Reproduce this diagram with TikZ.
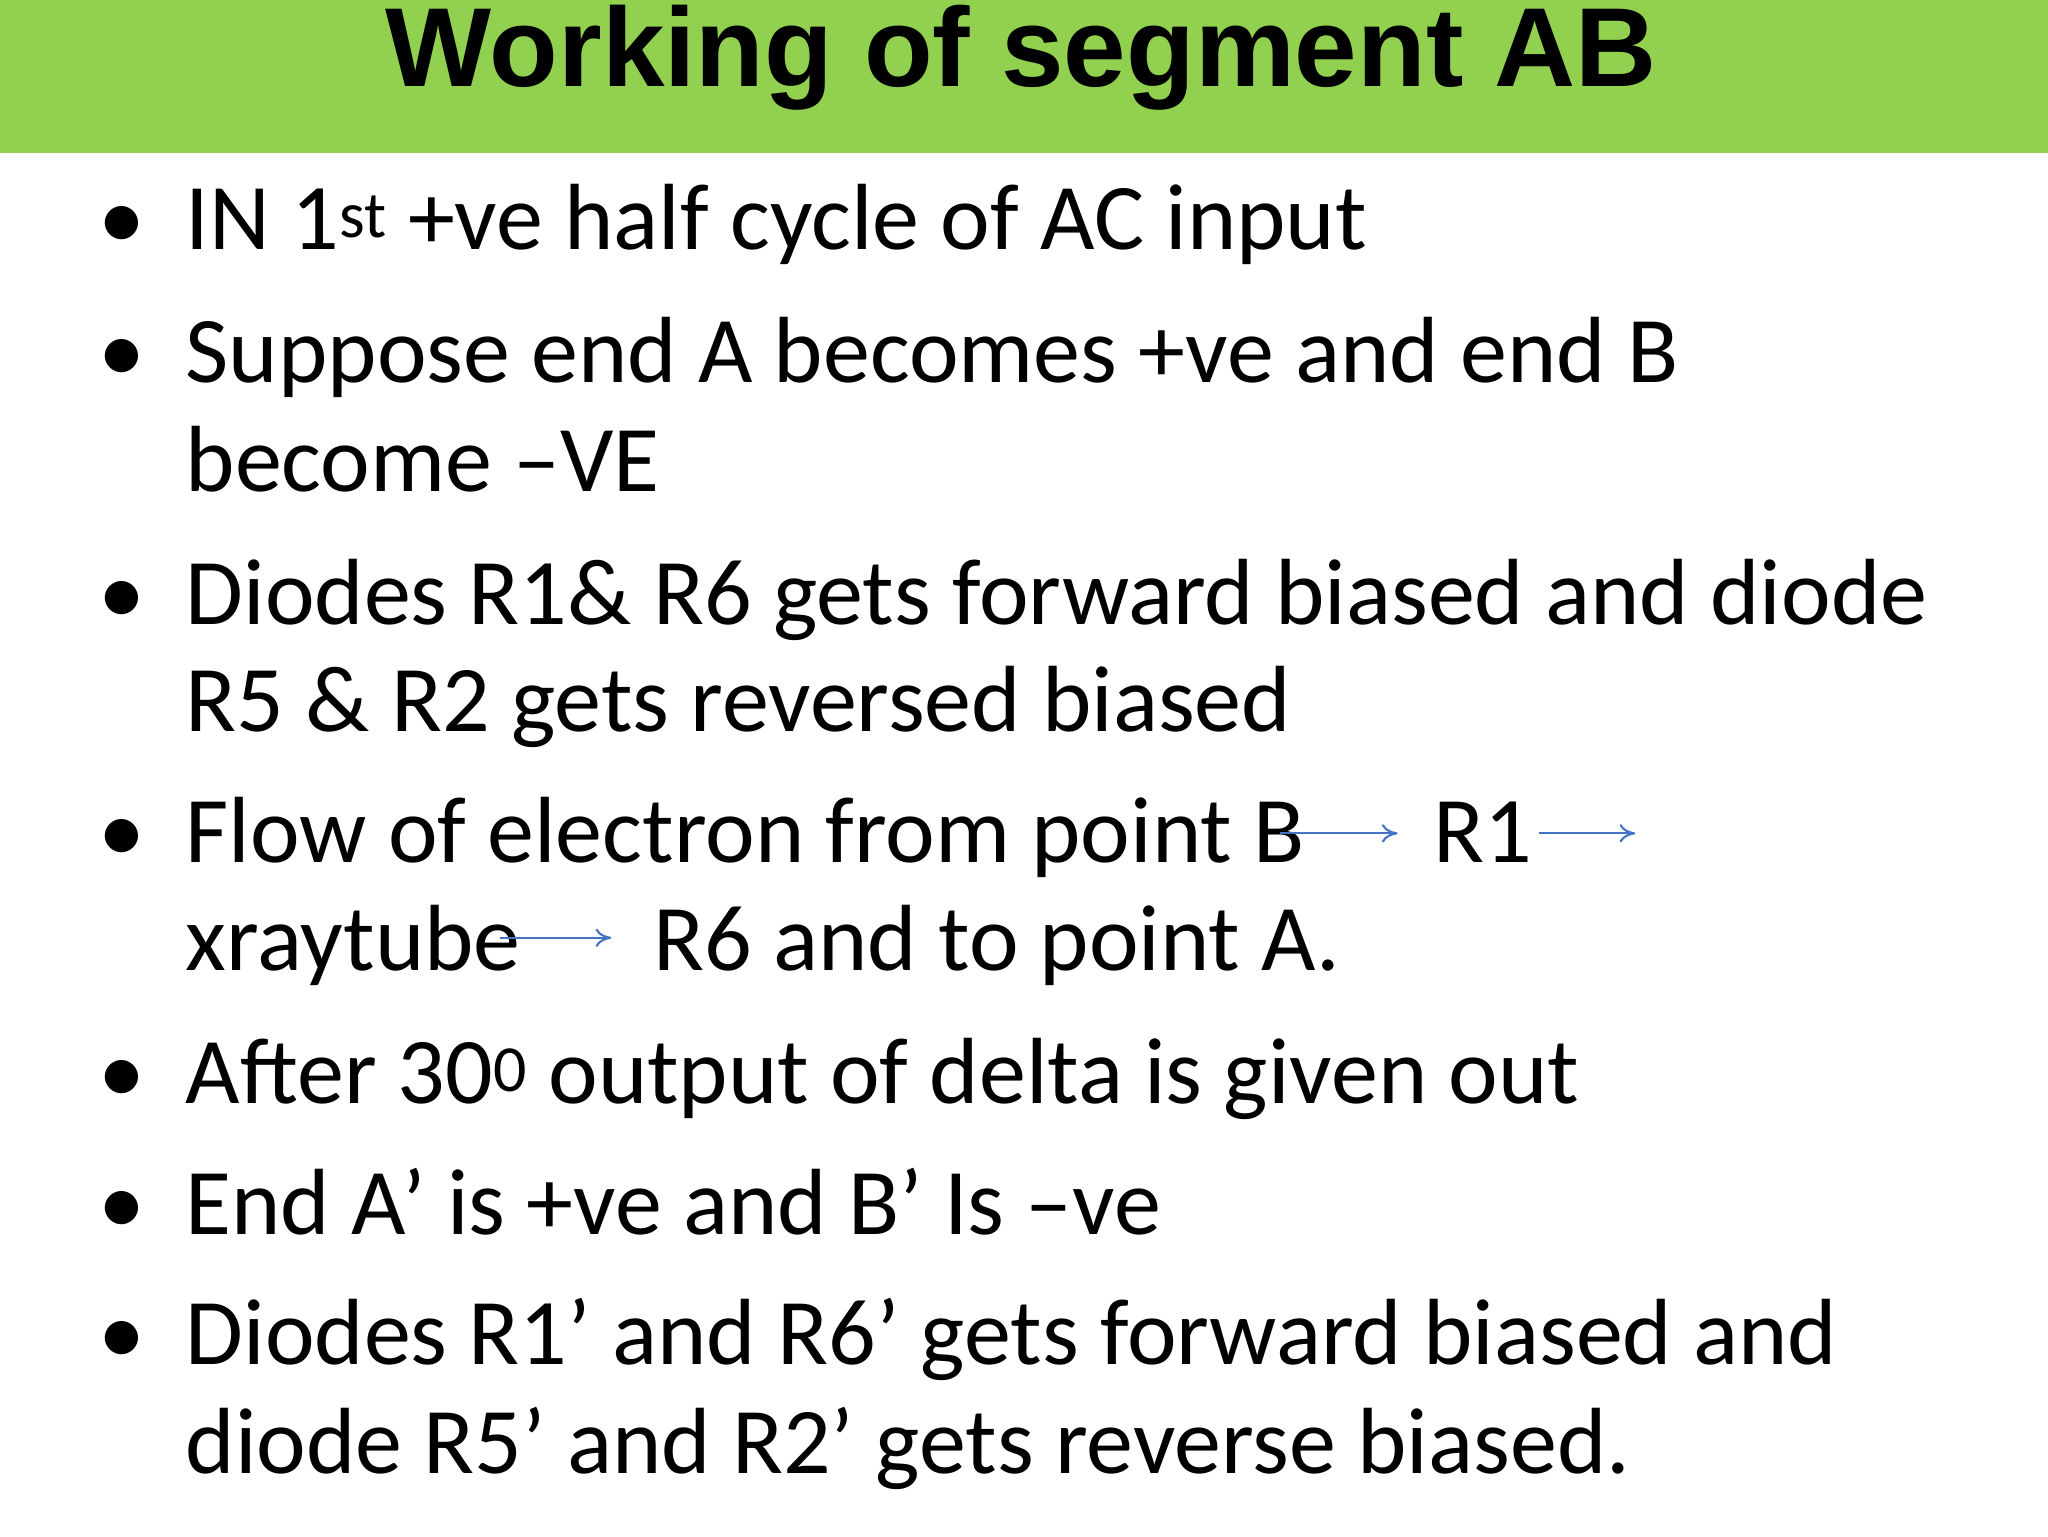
\documentclass[tikz,border=0pt]{standalone}
\usepackage{fontspec}
\setmainfont{Carlito}
\newfontfamily\ttl{Liberation Sans}
\usetikzlibrary{arrows.meta}
\definecolor{band}{HTML}{92D050}
\definecolor{arr}{HTML}{4472C4}
\begin{document}
\begin{tikzpicture}[x=1pt,y=-1pt,
  t/.style={anchor=base west,inner sep=0pt,font=\fontsize{72}{80}\selectfont},
  b/.style={anchor=base,inner sep=0pt,font=\fontsize{72}{80}\selectfont},
  ar/.style={draw=arr,line width=1.6pt,-{To[length=12pt,width=14pt]}}]
\useasboundingbox (0,0) rectangle (1568,1176);
\fill[band] (0,0) rectangle (1568,117);
\node[anchor=base,inner sep=0pt,font=\ttl\bfseries\fontsize{86}{90}\selectfont] (title) at (782,66) {Working of segment AB};
\foreach \y in {191,293,478,660,845,945,1045}{\node[b] at (93,\y) {•};}
\node[t] (l1) at (142,191) {IN 1\textsuperscript{st} +ve half cycle of AC input};
\node[t] (l2) at (142,293) {Suppose end A becomes +ve and end B};
\node[t] (l3) at (142,376) {become –VE};
\node[t] (l4) at (142,478) {Diodes R1\& R6 gets forward biased and diode};
\node[t] (l5) at (142,560) {R5 \& R2 gets reversed biased};
\node[t] (l6) at (142,660) {Flow of electron from point B};
\node[t] (r1) at (1097,660) {R1};
\node[t] (l7) at (142,743) {xraytube};
\node[t] (r6) at (500,743) {R6 and to point A.};
\node[t] (l8) at (142,845) {After 30\textsuperscript{0} output of delta is given out};
\node[t] (l9) at (142,945) {End A’ is +ve and B’ Is –ve};
\node[t] (l10) at (142,1045) {Diodes R1’ and R6’ gets forward biased and};
\node[t] (l11) at (142,1128) {diode R5’ and R2’ gets reverse biased.};
\coordinate (a1s) at (980,638); \coordinate (a1e) at (1070,638);
\coordinate (a2s) at (1178,638); \coordinate (a2e) at (1252,638);
\coordinate (a3s) at (383,718); \coordinate (a3e) at (468,718);
\draw[ar] (a1s) -- (a1e);
\draw[ar] (a2s) -- (a2e);
\draw[ar] (a3s) -- (a3e);
\end{tikzpicture}
\end{document}
